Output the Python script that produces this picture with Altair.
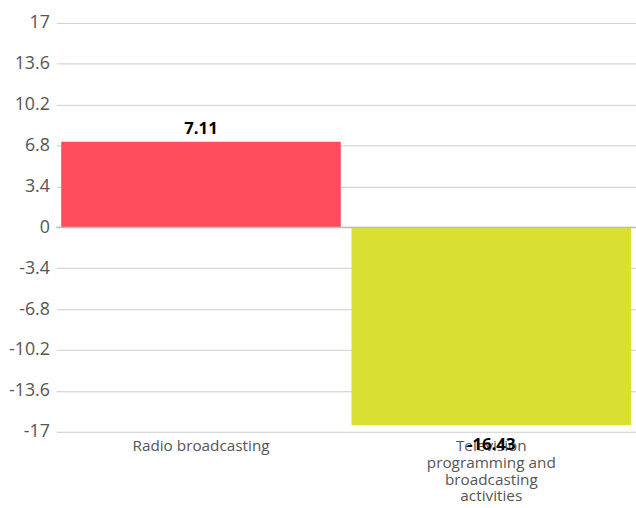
import altair as alt
import pandas as pd

categories = ["Radio broadcasting", "Television programming and broadcasting activities"]
values = [7.11, -16.43]
value_labels = ["7.11", "-16.43"]
colors = ["#FF4D5E", "#D9E032"]
y_ticks = [-17, -13.6, -10.2, -6.8, -3.4, 0, 3.4, 6.8, 10.2, 13.6, 17]
x_label_lines = [["Radio broadcasting"], ["Television", "programming and", "broadcasting", "activities"]]

df = pd.DataFrame({"cat": categories, "val": values, "lab": value_labels, "col": colors})

label_expr = " : ".join(
    [f"datum.value == '{c}' ? {lines!r}" for c, lines in zip(categories, x_label_lines)]
) + " : datum.value"

FONT = "Open Sans"

xscale = alt.Scale(paddingInner=0.037, paddingOuter=0.017)
yscale = alt.Scale(domain=[-17, 17], nice=False, zero=False)

xaxis = alt.Axis(
    title=None,
    labelAngle=0,
    labelExpr=label_expr,
    labelFont=FONT,
    labelFontSize=15.5,
    labelColor="#555555",
    labelPadding=7,
    labelLineHeight=17,
    labelBaseline="top",
    domain=False,
    ticks=False,
    grid=False,
)
yaxis = alt.Axis(
    title=None,
    values=y_ticks,
    labelExpr="'' + datum.value",
    labelFont=FONT,
    labelFontSize=18,
    labelColor="#555555",
    labelPadding=7,
    domain=False,
    ticks=False,
    gridColor="#cccccc",
    gridWidth=1,
)

def X():
    return alt.X("cat:N", sort=categories, scale=xscale, axis=xaxis)

bars = alt.Chart(df).mark_bar().encode(
    x=X(),
    y=alt.Y("val:Q", scale=yscale, axis=yaxis),
    color=alt.Color("col:N", scale=None),
)

zero = alt.Chart(df).mark_rule(color="#bbbbbb", strokeWidth=1).encode(
    y=alt.Y("z:Q", scale=yscale, axis=yaxis),
).transform_calculate(z="0")

pos = alt.Chart(df).transform_filter("datum.val >= 0").mark_text(
    font=FONT, fontSize=17, fontWeight="bold", color="#000000", baseline="bottom", dy=-4
).encode(x=X(), y=alt.Y("val:Q", scale=yscale, axis=yaxis), text="lab:N")

neg = alt.Chart(df).transform_filter("datum.val < 0").mark_text(
    font=FONT, fontSize=17, fontWeight="bold", color="#000000", baseline="top", dy=12
).encode(x=X(), y=alt.Y("val:Q", scale=yscale, axis=yaxis), text="lab:N")

chart = alt.layer(bars, zero, pos, neg).properties(
    width=587,
    height=414,
    autosize=alt.AutoSizeParams(type="none"),
    padding={"left": 57, "top": 20, "right": 0, "bottom": 74},
    background="white",
).configure_view(stroke=None)

chart.save("out.html", embed_options={"renderer": "svg", "actions": False})
